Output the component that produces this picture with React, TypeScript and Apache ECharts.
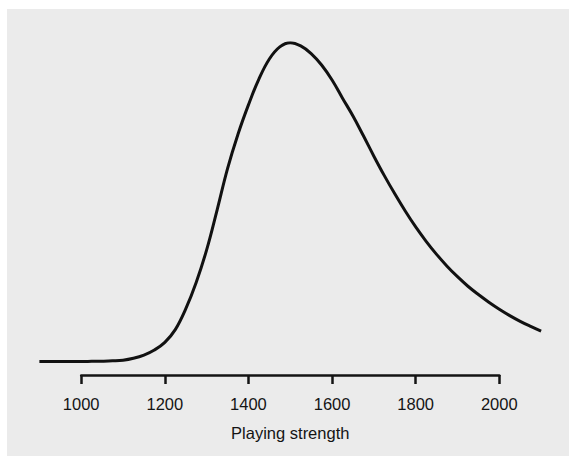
import React, { useEffect, useRef } from "react";
import * as echarts from "echarts";

// Playing strength (x) and relative frequency (y, peak = 100)
const strength = [
  900, 950, 1000, 1025, 1050, 1075, 1100, 1125, 1150, 1175, 1200, 1225, 1250, 1275, 1300, 1325, 1350,
  1375, 1400, 1425, 1450, 1475, 1500, 1525, 1550, 1575, 1600, 1625, 1650, 1675, 1700, 1725, 1750, 1775,
  1800, 1825, 1850, 1875, 1900, 1925, 1950, 1975, 2000, 2025, 2050, 2075, 2100,
];
const density = [
  0, 0, 0, 0.05, 0.1, 0.2, 0.4, 1.0, 2.0, 3.6, 6.0, 10.0, 16.5, 24.8, 35.0, 47.5, 60.5,
  71.3, 80.5, 88.6, 94.9, 98.7, 100, 99.0, 96.6, 93.0, 88.3, 82.6, 77.0, 70.8, 64.4, 58.3, 52.6, 47.2,
  42.2, 37.7, 33.6, 29.9, 26.6, 23.6, 21.0, 18.6, 16.4, 14.4, 12.6, 11.0, 9.5,
];
const axisMin = 1000;
const axisMax = 2000;
const tickStep = 200;
const axisTitle = "Playing strength";

export default function App() {
  const ref = useRef<HTMLDivElement>(null);
  useEffect(() => {
    if (!ref.current) return;
    const chart = echarts.init(ref.current, undefined, { renderer: "svg" });
    const pxPerUnit = 418.1 / (axisMax - axisMin);
    const axisLeft = 81.2;
    const curveMin = 900;
    const curveMax = 2105;
    const font = "'Liberation Sans', Arial, Helvetica, sans-serif";
    chart.setOption({
      animation: false,
      backgroundColor: "#ffffff",
      graphic: [
        {
          type: "rect",
          z: -10,
          shape: { x: 7, y: 9, width: 600, height: 500 },
          style: { fill: "#ebebeb" },
          silent: true,
        },
      ],
      grid: [
        { left: axisLeft, width: (axisMax - axisMin) * pxPerUnit, top: 40, bottom: 81 },
        {
          left: axisLeft - (axisMin - curveMin) * pxPerUnit,
          width: (curveMax - curveMin) * pxPerUnit,
          top: 42.7,
          bottom: 94.5,
        },
      ],
      xAxis: [
        {
          gridIndex: 0,
          type: "value",
          min: axisMin,
          max: axisMax,
          interval: tickStep,
          axisLine: { show: true, lineStyle: { color: "#141414", width: 2.5 } },
          axisTick: { show: true, length: 9, lineStyle: { color: "#141414", width: 2.5 } },
          axisLabel: {
            color: "#141414",
            fontSize: 16.5,
            fontFamily: font,
            margin: 20,
            formatter: (v: number) => String(v),
          },
          splitLine: { show: false },
          name: axisTitle,
          nameLocation: "middle",
          nameGap: 49,
          nameTextStyle: { color: "#141414", fontSize: 16.5, fontFamily: font },
        },
        {
          gridIndex: 1,
          type: "value",
          min: curveMin,
          max: curveMax,
          show: false,
        },
      ],
      yAxis: [
        { gridIndex: 0, type: "value", show: false },
        { gridIndex: 1, type: "value", min: 0, max: 100, show: false },
      ],
      series: [
        {
          type: "line",
          xAxisIndex: 1,
          yAxisIndex: 1,
          data: strength.map((s, i) => [s, density[i]]),
          smooth: 0.4,
          showSymbol: false,
          symbol: "none",
          lineStyle: { color: "#111111", width: 3 },
        },
      ],
    });
    return () => chart.dispose();
  }, []);
  return <div ref={ref} style={{ position: "fixed", left: 0, top: 0, width: 569, height: 456 }} />;
}
